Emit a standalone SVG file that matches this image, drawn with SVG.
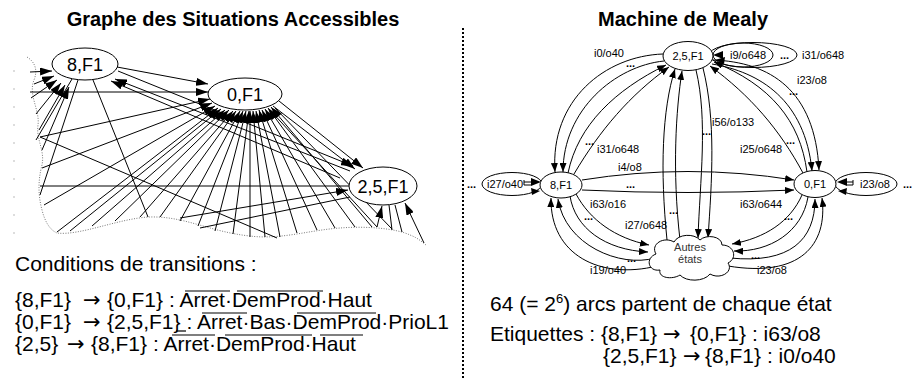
<svg xmlns="http://www.w3.org/2000/svg" width="922" height="381" viewBox="0 0 922 381">
<defs>
<style>
.t{font-family:"Liberation Sans",Arial,sans-serif;fill:#000}
.arr{font-family:"DejaVu Sans",sans-serif}
.title{font-size:20px;font-weight:bold;text-anchor:middle}
.big{font-size:21px}
.nl{font-size:18px;text-anchor:middle}
.ns{font-size:11px;text-anchor:middle}
.lb{font-size:11px}
.dots{font-size:11px;font-weight:bold}
.ln{stroke:#000;stroke-width:1;fill:none}
.la{stroke:#000;stroke-width:1;fill:none;marker-end:url(#ahL)}
.ra{stroke:#000;stroke-width:1;fill:none;marker-end:url(#ahR)}
.node{fill:#fff;stroke:#000;stroke-width:1}
.ov{stroke:#000;stroke-width:1.2}
</style>
<marker id="ahL" viewBox="0 0 12 8" refX="12" refY="4" markerWidth="12" markerHeight="8" markerUnits="userSpaceOnUse" orient="auto"><path d="M0,0 L12,4 L0,8 z" fill="#000"/></marker>
<marker id="ahR" viewBox="0 0 9 7" refX="9" refY="3.5" markerWidth="9" markerHeight="7" markerUnits="userSpaceOnUse" orient="auto"><path d="M0,0 L9,3.5 L0,7 z" fill="#000"/></marker>
</defs>
<rect width="922" height="381" fill="#fff"/>

<!-- Titles -->
<text class="t title" x="233" y="26">Graphe des Situations Accessibles</text>
<text class="t title" x="683" y="26">Machine de Mealy</text>

<!-- separator -->
<line x1="463" y1="28" x2="463" y2="378" stroke="#000" stroke-width="2" stroke-dasharray="2,2"/>

<!-- LEFT: boundary -->
<line x1="14" y1="70" x2="14" y2="236" stroke="#bbb" stroke-width="1" stroke-dasharray="2,16"/>
<path d="M27,57 C35,62 38,70 34,80 C28,95 40,110 38,125 C36,140 45,150 42,165 C38,180 38,195 42,210 C45,222 50,230 57,233 C80,236 120,218 150,217 C185,216 210,232 250,236 C280,240 310,230 340,228 C365,226 395,228 410,235 C418,238 422,242 426,245" fill="none" stroke="#777" stroke-width="1" stroke-dasharray="1,1.5"/>

<g id="left-connectors">
<line class="la" x1="30" y1="72" x2="52" y2="71"/>
<line class="la" x1="34" y1="84" x2="54" y2="76"/>
<line class="la" x1="31" y1="98" x2="57" y2="80"/>
<line class="la" x1="36" y1="114" x2="61" y2="83"/>
<line class="la" x1="39" y1="130" x2="65" y2="85"/>
<line class="la" x1="42" y1="150" x2="69" y2="87"/>
<line class="la" x1="340" y1="178" x2="111" y2="81"/>
<line class="la" x1="350" y1="171" x2="115" y2="79"/>
<line class="ln" x1="93" y1="80" x2="148" y2="217"/>
<line class="ln" x1="72" y1="79" x2="36" y2="140"/>
<line class="ln" x1="78" y1="80" x2="40" y2="195"/>
<line class="la" x1="117" y1="67" x2="208" y2="84"/>
<line class="la" x1="118" y1="71" x2="353" y2="166"/>
<line class="la" x1="30" y1="92" x2="208" y2="92"/>
<line class="la" x1="40" y1="137" x2="210" y2="99"/>
<line class="la" x1="42" y1="168" x2="212" y2="103"/>
<line class="la" x1="44" y1="205" x2="215" y2="106"/>
<line class="la" x1="57" y1="232" x2="218" y2="108"/>
<line class="la" x1="70" y1="231" x2="221" y2="109"/>
<line class="la" x1="92" y1="226" x2="225" y2="110"/>
<line class="la" x1="115" y1="221" x2="229" y2="110"/>
<line class="la" x1="140" y1="217" x2="233" y2="111"/>
<line class="la" x1="160" y1="217" x2="236" y2="111"/>
<line class="la" x1="180" y1="221" x2="240" y2="111"/>
<line class="la" x1="198" y1="226" x2="243" y2="111"/>
<line class="la" x1="215" y1="231" x2="246" y2="111"/>
<line class="la" x1="233" y1="234" x2="249" y2="111"/>
<line class="la" x1="250" y1="237" x2="250" y2="111"/>
<line class="la" x1="265" y1="237" x2="253" y2="111"/>
<line class="la" x1="280" y1="237" x2="256" y2="111"/>
<line class="la" x1="297" y1="233" x2="259" y2="110"/>
<line class="la" x1="317" y1="230" x2="262" y2="110"/>
<line class="la" x1="335" y1="228" x2="265" y2="109"/>
<line class="la" x1="355" y1="227" x2="268" y2="108"/>
<line class="la" x1="372" y1="227" x2="271" y2="107"/>
<line class="la" x1="279" y1="101" x2="363" y2="168"/>
<line class="la" x1="273" y1="106" x2="355" y2="169"/>
<line class="ln" x1="40" y1="186" x2="349" y2="186"/>
<line class="la" x1="180" y1="218" x2="348" y2="190"/>
<line class="ln" x1="200" y1="228" x2="350" y2="197"/>
<line class="ln" x1="40" y1="137" x2="277" y2="238"/>
<line class="ln" x1="275" y1="108" x2="392" y2="229"/>
<line class="ln" x1="270" y1="110" x2="377" y2="227"/>
<line class="la" x1="377" y1="227" x2="382" y2="206"/>
<line class="la" x1="424" y1="243" x2="405" y2="203"/>
<line class="ln" x1="389" y1="205" x2="392" y2="230"/>
<line class="ln" x1="395" y1="205" x2="402" y2="232"/>
</g>

<g id="n8F1-left"><ellipse class="node" cx="85" cy="64" rx="33" ry="16"/><text class="t nl" x="85" y="70.5">8,F1</text></g>
<g id="n0F1-left"><ellipse class="node" cx="245" cy="94" rx="37" ry="16"/><text class="t nl" x="245" y="100.5">0,F1</text></g>
<g id="n25F1-left"><ellipse class="node" cx="383" cy="186" rx="34" ry="19"/><text class="t nl" x="383" y="192.5">2,5,F1</text></g>

<!-- LEFT texts -->
<text class="t big" x="15" y="271">Conditions de transitions :</text>
<text class="t big" x="15" y="307">{8,F1}<tspan class="arr" x="83">→</tspan><tspan x="107">{0,F1} : Arret·DemProd·Haut</tspan></text>
<text class="t big" x="15" y="329">{0,F1}<tspan class="arr" x="83">→</tspan><tspan x="107">{2,5,F1} : Arret·Bas·DemProd·PrioL1</tspan></text>
<text class="t big" x="15" y="351">{2,5}<tspan class="arr" x="67">→</tspan><tspan x="91">{8,F1} : Arret·DemProd·Haut</tspan></text>
<g id="overlines">
<line class="ov" x1="185" y1="291" x2="230" y2="291"/>
<line class="ov" x1="237" y1="291" x2="323" y2="291"/>
<line class="ov" x1="202" y1="313" x2="247" y2="313"/>
<line class="ov" x1="297" y1="313" x2="376" y2="313"/>
<line class="ov" x1="172" y1="335" x2="215" y2="335"/>
<line class="ov" x1="225" y1="335" x2="312" y2="335"/>
<line class="ov" x1="320" y1="335" x2="363" y2="335"/>
<line class="ov" x1="176" y1="331" x2="186" y2="331"/>
</g>

<!-- RIGHT connectors -->
<g id="right-connectors">
<ellipse class="ln" cx="753" cy="55" rx="44" ry="12.5"/>
<ellipse class="ln" cx="743" cy="55" rx="30" ry="12"/>
<ellipse class="ln" cx="512" cy="184" rx="30" ry="11.5"/>
<ellipse class="ln" cx="866" cy="184" rx="31" ry="11.5"/>
<path class="ra" d="M663,54 C605,56 550,100 555,172"/>
<path class="ra" d="M664,61 C615,66 563,110 563,172"/>
<path class="ra" d="M568,173 C578,125 615,90 666,65"/>
<path class="ra" d="M574,174 C600,130 630,95 669,67"/>
<path class="ra" d="M713,60 C770,62 815,90 819,170"/>
<path class="ra" d="M712,64 C760,72 805,100 812,171"/>
<path class="ra" d="M803,173 C780,130 750,95 710,66"/>
<path class="ra" d="M807,172 C800,120 770,85 714,62"/>
<path class="ra" d="M667,240 C660,170 662,110 675,69"/>
<path class="ra" d="M680,240 C672,170 676,110 682,71"/>
<path class="ra" d="M696,70 C708,120 700,180 698,238"/>
<path class="ra" d="M703,68 C716,120 712,180 708,238"/>
<path class="ra" d="M582,180 Q688,163 794,180"/>
<path class="ra" d="M582,190 Q688,195 794,190"/>
<path class="ra" d="M576,194 C590,220 615,238 649,245"/>
<path class="ra" d="M570,196 C575,228 605,250 648,252"/>
<path class="ra" d="M655,258 C620,268 565,245 558,199"/>
<path class="ra" d="M657,266 C600,280 550,255 551,198"/>
<path class="ra" d="M802,195 C790,222 765,238 732,244"/>
<path class="ra" d="M808,197 C802,232 770,252 734,251"/>
<path class="ra" d="M730,258 C790,264 815,240 815,199"/>
<path class="ra" d="M728,266 C800,278 828,245 822,198"/>
<!-- loop arrowheads -->
<path d="M713,55 L723,51 L723,59 z"/>
<path d="M715,60 L725,57 L724,64 z"/>
<path d="M541,182 L531,178 L531,186 z"/>
<path d="M540,191 L531,188 L532,195 z"/>
<path d="M837,182 L847,178 L847,186 z"/>
<path d="M838,191 L847,188 L846,195 z"/>
<path class="ln" d="M531,182 L524,182 M524,180 L524,185 L531,185"/>
<path class="ln" d="M847,182 L853,182 M853,180 L853,185 L847,185"/>
</g>

<!-- RIGHT labels -->
<g id="right-labels">
<text class="t lb" x="594" y="57">i0/o40</text>
<text class="t dots" x="626" y="67">...</text>
<text class="t lb" x="797" y="84">i23/o8</text>
<text class="t dots" x="789" y="95">...</text>
<text class="t lb" x="712" y="126">i56/o133</text>
<text class="t dots" x="702" y="135">...</text>
<text class="t lb" x="597" y="153">i31/o648</text>
<text class="t dots" x="585" y="145">...</text>
<text class="t lb" x="740" y="153">i25/o648</text>
<text class="t dots" x="786" y="144">...</text>
<text class="t lb" x="618" y="171">i4/o8</text>
<text class="t dots" x="626" y="188">...</text>
<text class="t lb" x="590" y="208">i63/o16</text>
<text class="t dots" x="584" y="220">...</text>
<text class="t lb" x="740" y="208">i63/o644</text>
<text class="t dots" x="784" y="220">...</text>
<text class="t lb" x="625" y="229">i27/o648</text>
<text class="t dots" x="669" y="214">...</text>
<text class="t lb" x="590" y="274">i19/o40</text>
<text class="t dots" x="627" y="262">...</text>
<text class="t lb" x="757" y="274">i23/o8</text>
<text class="t dots" x="751" y="259">...</text>
<text class="t lb" x="730" y="59">i9/o648</text>
<text class="t dots" x="780" y="59">...</text>
<text class="t lb" x="802" y="59">i31/o648</text>
<text class="t lb" x="487" y="188">i27/o40</text>
<text class="t dots" x="467" y="188">...</text>
<text class="t lb" x="860" y="188">i23/o8</text>
<text class="t dots" x="903" y="188">...</text>
</g>

<!-- RIGHT nodes -->
<g id="n25F1"><ellipse class="node" cx="688" cy="56" rx="25" ry="14.5"/><text class="t ns" x="688" y="60">2,5,F1</text></g>
<g id="n8F1"><ellipse class="node" cx="561" cy="185" rx="21" ry="13"/><text class="t ns" x="561" y="189">8,F1</text></g>
<g id="n0F1"><ellipse class="node" cx="815" cy="184" rx="21" ry="13.5"/><text class="t ns" x="815" y="188">0,F1</text></g>
<g id="autres">
<path class="node" d="M660,270 C648,272 645,258 656,254 C650,244 664,236 674,242 C678,234 694,233 700,240 C706,234 722,236 722,245 C734,245 738,258 728,263 C734,272 720,280 710,274 C704,282 686,282 680,275 C672,280 658,278 660,270 Z"/>
<text class="t ns" x="690" y="251" style="fill:#333">Autres</text>
<text class="t ns" x="690" y="263" style="fill:#333">états</text>
</g>

<!-- RIGHT texts -->
<text class="t big" x="490" y="311">64 (= 2<tspan font-size="13" dy="-8">6</tspan><tspan dy="8">) arcs partent de chaque état</tspan></text>
<text class="t big" x="490" y="341">Etiquettes : {8,F1}<tspan class="arr" x="663">→</tspan><tspan x="690">{0,F1} : i63/o8</tspan></text>
<text class="t big" x="603" y="363">{2,5,F1}<tspan class="arr" x="683">→</tspan><tspan x="705">{8,F1} : i0/o40</tspan></text>
</svg>
